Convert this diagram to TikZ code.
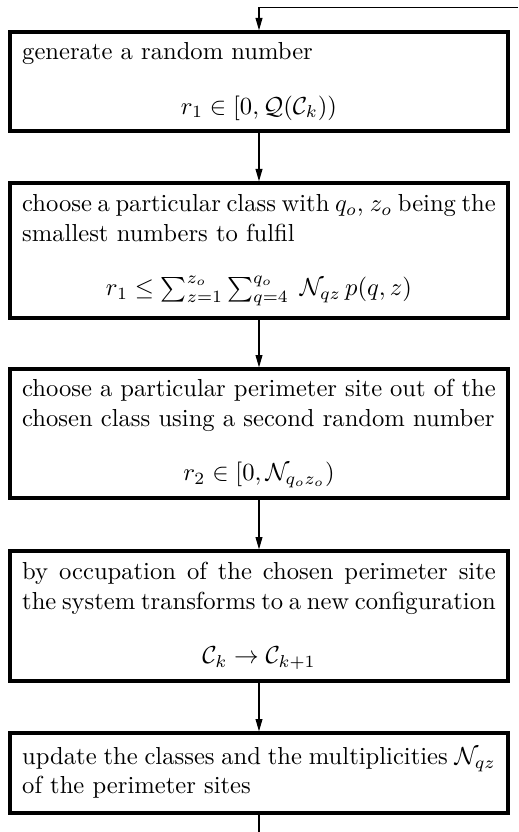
\documentclass[tikz,border=0pt]{standalone}
\usepackage{amsmath,amssymb}
\usetikzlibrary{arrows.meta}
\newlength{\tw}\setlength{\tw}{192.5pt}
\newcommand{\flowtxt}[2]{\begin{minipage}{\tw}\fontsize{10}{12}\selectfont #1\par\vspace{10pt}{\centering $#2$\par}\end{minipage}}
\newcommand{\flowplain}[1]{\begin{minipage}{\tw}\fontsize{10}{12}\selectfont #1\end{minipage}}
\tikzset{
  flowbox/.style={draw, line width=1.4pt, minimum width=202.4pt, inner xsep=4.95pt, inner ysep=0pt},
  flowarrow/.style={line width=0.45pt, -{Triangle[length=5pt,width=2.8pt]}},
  flowline/.style={line width=0.45pt}
}
\begin{document}
\begin{tikzpicture}[x=0.4065pt, y=-0.4065pt]
\useasboundingbox (0,0) rectangle (518,832);
\node[flowbox, minimum height=40.24pt] (b1) at (259,81.5)
  {\flowtxt{generate a random number}{r_1 \in [0,\mathcal{Q}(\mathcal{C}_k))}};
\node[flowbox, minimum height=54.9pt] (b2) at (259,250.5)
  {\flowtxt{choose a particular class with $q_o$, $z_o$ being the\linebreak smallest numbers to fulfil}{r_1 \le \sum_{z=1}^{z_o}\sum_{q=4}^{q_o}\;\mathcal{N}_{qz}\,p(q,z)}};
\node[flowbox, minimum height=52.4pt] (b3) at (259,433.5)
  {\flowtxt{choose a particular perimeter site out of the\linebreak chosen class using a second random number}{r_2 \in [0,\mathcal{N}_{q_oz_o})}};
\node[flowbox, minimum height=52.8pt] (b4) at (259,616)
  {\flowtxt{by occupation of the chosen perimeter site\linebreak the system transforms to a new configuration}{\mathcal{C}_k \rightarrow \mathcal{C}_{k+1}}};
\node[flowbox, minimum height=32.5pt] (b5) at (259,773)
  {\flowplain{update the classes and the multiplicities $\mathcal{N}_{qz}$\linebreak of the perimeter sites}};
\coordinate (loopin) at (518,7.5);
\coordinate (loopout) at (259,832);
\draw[flowarrow] (loopin) -| (b1.north);
\draw[flowarrow] (b1.south) -- (b2.north);
\draw[flowarrow] (b2.south) -- (b3.north);
\draw[flowarrow] (b3.south) -- (b4.north);
\draw[flowarrow] (b4.south) -- (b5.north);
\draw[flowline] (b5.south) -- (loopout);
\end{tikzpicture}
\end{document}
